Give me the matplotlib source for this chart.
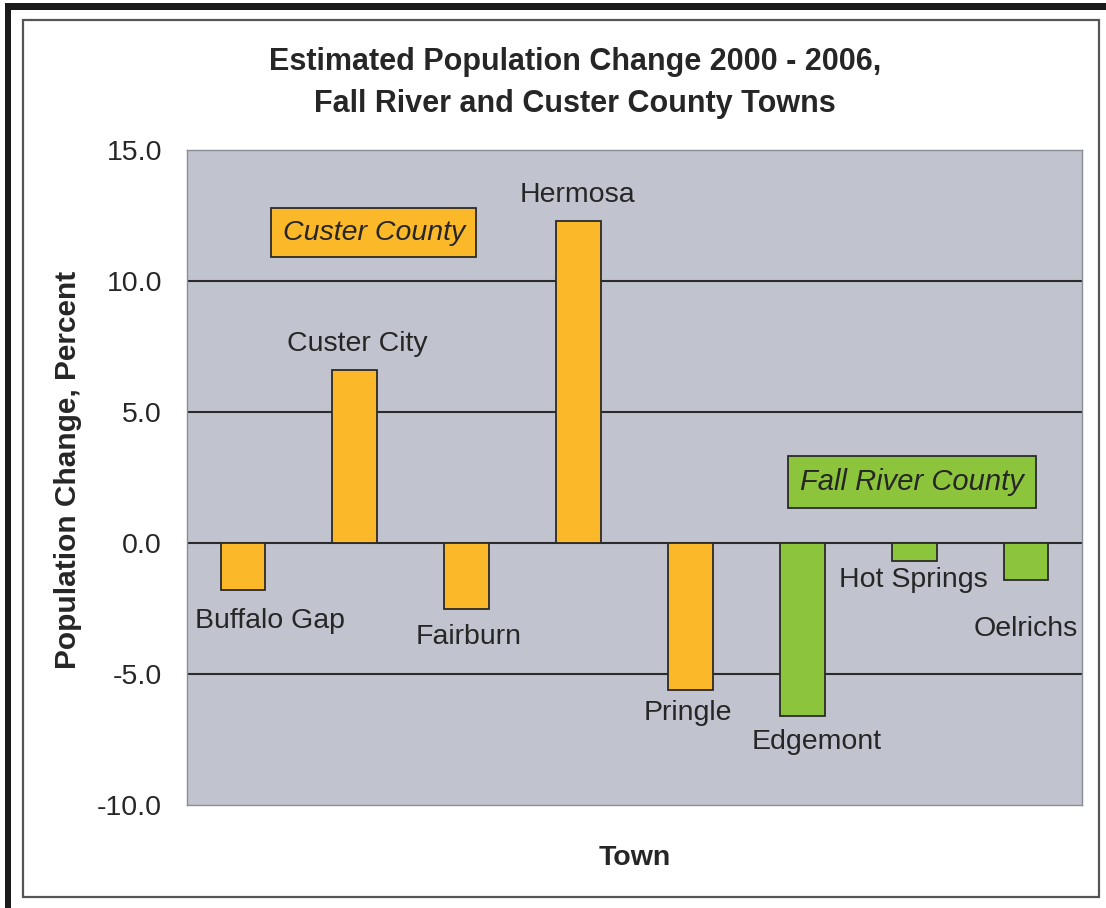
import matplotlib.pyplot as plt
from matplotlib.patches import Rectangle

plt.rcParams['font.family'] = ['Liberation Sans', 'DejaVu Sans']

# percent change 2000-2006 by town
towns = ['Buffalo Gap', 'Custer City', 'Fairburn', 'Hermosa',
         'Pringle', 'Edgemont', 'Hot Springs', 'Oelrichs']
change = [-1.8, 6.6, -2.5, 12.3, -5.6, -6.6, -0.7, -1.4]
county = ['Custer', 'Custer', 'Custer', 'Custer',
          'Custer', 'Fall River', 'Fall River', 'Fall River']

colors = {'Custer': '#FBB829', 'Fall River': '#8CC43C'}
# where each town name sits, relative to its bar (x shift, y in data units)
label_pos = [(0.24, -2.98), (0.02, 7.6), (0.02, -3.6), (-0.01, 13.3),
             (-0.02, -6.5), (0.13, -7.6), (-0.01, -1.4), (0.0, -3.3)]

FS = 20.5
TXT = '#262626'

fig = plt.figure(figsize=(11.06, 9.08), dpi=100)
ax = fig.add_axes([187/1106, 1 - 805/908, (1082 - 187)/1106, (805 - 150)/908])

ax.set_facecolor('#C1C4CE')
for y in [10, 5, 0, -5]:
    ax.axhline(y, color='#2b2b2b', lw=1.5, zorder=1)

x = list(range(len(towns)))
ax.bar(x, change, width=0.4, color=[colors[c] for c in county],
       edgecolor='#2b2b2b', linewidth=1.3, zorder=2)

for i, name in enumerate(towns):
    dx, ly = label_pos[i]
    ax.text(i + dx, ly, name, ha='center', va='center', fontsize=FS,
            color=TXT, zorder=3)

ax.text(1.17, 11.85, 'Custer County', ha='center', va='center', fontsize=FS,
        style='italic', color=TXT,
        bbox=dict(boxstyle='square,pad=0.4', fc=colors['Custer'], ec='#2b2b2b', lw=1.3))
ax.text(5.98, 2.33, 'Fall River County', ha='center', va='center', fontsize=FS + 0.5,
        style='italic', color=TXT,
        bbox=dict(boxstyle='square,pad=0.42', fc=colors['Fall River'], ec='#2b2b2b', lw=1.3))

ax.set_xlim(-0.5, len(towns) - 0.5)
ax.set_ylim(-10, 15)
ax.set_yticks([15, 10, 5, 0, -5, -10])
ax.set_yticklabels(['%.1f' % t for t in [15, 10, 5, 0, -5, -10]])
ax.set_xticks([])
ax.tick_params(axis='y', length=0, pad=18, labelsize=FS, labelcolor=TXT)
for side in ['left', 'right', 'top', 'bottom']:
    ax.spines[side].set_color('#8a8d95')
    ax.spines[side].set_linewidth(1.0)

ax.set_ylabel('Population Change, Percent', fontsize=21.5, fontweight='bold',
              color=TXT)
ax.yaxis.set_label_coords(-0.117, 0.511)
ax.set_xlabel('Town', fontsize=FS, fontweight='bold', color=TXT, labelpad=29)

fig.text(575/1106, 1 - 83/908,
         'Estimated Population Change 2000 - 2006,\nFall River and Custer County Towns',
         ha='center', va='center', fontsize=22, fontweight='bold', color=TXT,
         linespacing=1.55)

# frame around the chart and the heavy edge lines
fig.patches.append(Rectangle((23/1106, 1 - 897/908), (1099 - 23)/1106, (897 - 20)/908,
                             transform=fig.transFigure, fill=False,
                             ec='#555555', lw=1.6))
fig.patches.append(Rectangle((5/1106, 0), 6/1106, 1 - 3/908,
                             transform=fig.transFigure, fc='#1a1a1a', ec='none'))
fig.patches.append(Rectangle((5/1106, 1 - 10/908), 1, 7/908,
                             transform=fig.transFigure, fc='#1a1a1a', ec='none'))

fig.savefig('out.png', dpi=100, facecolor='white')
